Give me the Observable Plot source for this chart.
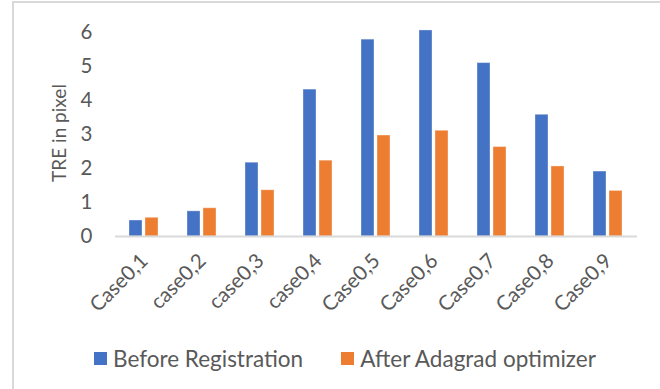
<!DOCTYPE html>
<html>
<head>
<meta charset="utf-8">
<script src="https://cdn.jsdelivr.net/npm/d3@7"></script>
<script src="https://cdn.jsdelivr.net/npm/@observablehq/plot@0.6"></script>
<style>
  html, body { margin: 0; padding: 0; background: #fff; }
  body { width: 660px; height: 389px; position: relative; overflow: hidden; font-family: Lato, "Open Sans", sans-serif; }
  #frame { position: absolute; left: 12px; top: 1px; width: 700px; height: 400px;
           border-top: 2px solid #d9d9d9; border-left: 2px solid #d9d9d9; box-sizing: border-box; }
  #chart { position: absolute; left: 0; top: 0; }
  #ytitle { position: absolute; left: 58px; top: 133px; transform: translate(-50%, -50%) rotate(-90deg);
            white-space: nowrap; font-size: 19px; color: #595959; line-height: 1; }
  #legend { position: absolute; left: 94px; top: 342px; }
  .leg-swatch { margin-right: 38px !important; }
  .leg-swatch svg { margin-right: 6px !important; }
</style>
</head>
<body>
<div id="frame"></div>
<div id="chart"></div>
<div id="ytitle">TRE in pixel</div>
<div id="legend"></div>
<script>
// Test cases along the x axis
const cases = ["Case0,1", "case0,2", "case0,3", "case0,4", "Case0,5", "Case0,6", "Case0,7", "Case0,8", "Case0,9"];
// Series names and colours
const series = ["Before Registration", "After Adagrad optimizer"];
const colors = ["#4472C4", "#ED7D31"];
// TRE (pixels) for each case
const beforeRegistration = [0.47, 0.74, 2.17, 4.32, 5.79, 6.06, 5.10, 3.58, 1.91];
const afterAdagrad = [0.55, 0.83, 1.36, 2.23, 2.97, 3.11, 2.63, 2.06, 1.34];
const yTicks = [0, 1, 2, 3, 4, 5, 6];

const rows = cases.flatMap((c, i) => [
  {case: c, series: series[0], value: beforeRegistration[i]},
  {case: c, series: series[1], value: afterAdagrad[i]}
]);

const chart = Plot.plot({
  width: 660,
  height: 330,
  marginLeft: 115,
  marginRight: 23,
  marginTop: 32,
  marginBottom: 94,
  style: {fontFamily: "Lato, 'Open Sans', sans-serif", fontSize: "20.5px", color: "#595959", background: "transparent"},
  fx: {domain: cases, paddingInner: 0, paddingOuter: 0, axis: "bottom", tickRotate: -45, tickSize: 0, tickPadding: 21, label: null},
  x: {domain: series, paddingInner: 0.18, paddingOuter: 0.85, axis: null},
  y: {domain: [0, 6], ticks: yTicks, tickFormat: d3.format("d"), tickSize: 0, tickPadding: 23, label: null, line: false},
  color: {domain: series, range: colors},
  marks: [
    Plot.barY(rows, {fx: "case", x: "series", y: "value", fill: "series", stroke: "#ffffff", strokeOpacity: 0.35, strokeWidth: 1}),
    Plot.ruleY([0], {stroke: "#d9d9d9", strokeWidth: 2})
  ]
});
document.getElementById("chart").appendChild(chart);

const legend = Plot.legend({
  color: {domain: series, range: colors},
  swatchSize: 13,
  className: "leg",
  style: {fontFamily: "Lato, 'Open Sans', sans-serif", fontSize: "22.5px", color: "#595959"}
});
document.getElementById("legend").appendChild(legend);
</script>
</body>
</html>
